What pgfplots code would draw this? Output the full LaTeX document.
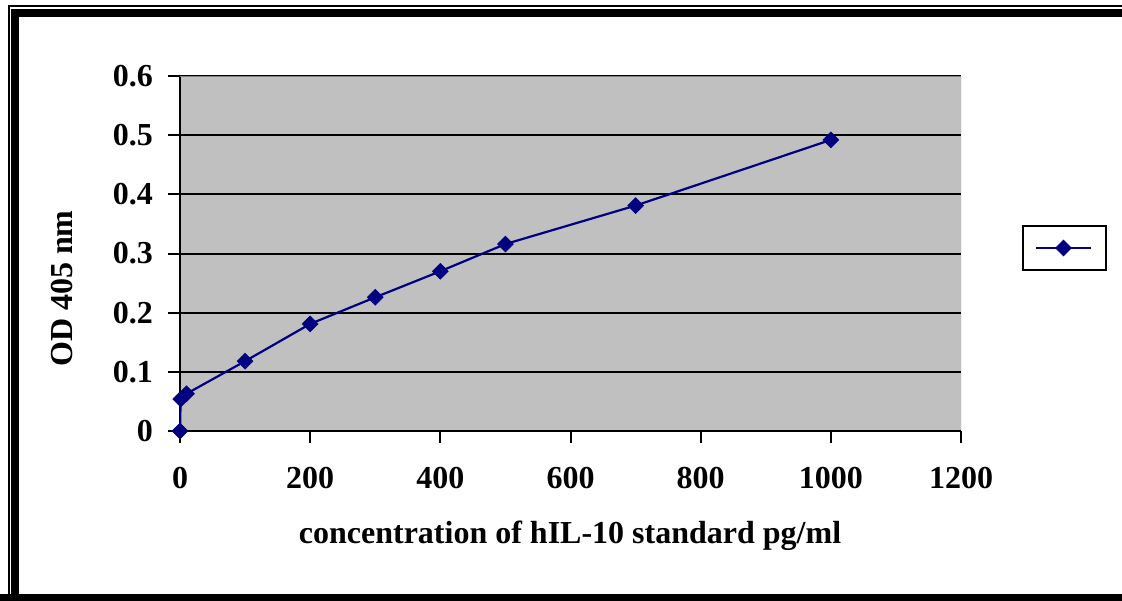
\documentclass[border=0pt]{standalone}
\usepackage{pgfplots}
\pgfplotsset{compat=1.18}
\usepackage{fontspec}
\setmainfont{Liberation Serif}
\definecolor{navy}{HTML}{000080}
\definecolor{plotgray}{HTML}{C0C0C0}
\definecolor{bordergray}{HTML}{808080}
\begin{document}
\begin{tikzpicture}[x=0.5pt,y=0.5pt]
\clip (0,0) rectangle (1122,600);
\fill[white] (0,0) rectangle (1122,600);
\draw[black, line width=1pt] (8.5,-20) rectangle (1140,593.5);
\draw[black, line width=4pt] (15,-20) rectangle (1140,587);
\draw[black, line width=4pt] (-20,2) -- (1140,2);
\begin{axis}[
  at={(90pt,84.5pt)}, anchor=south west,
  scale only axis, width=390.5pt, height=177.5pt,
  xmin=0, xmax=1200, ymin=0, ymax=0.6,
  xtick={0,200,...,1200}, ytick={0,0.1,...,0.6},
  axis lines*=left,
  axis line style={-, black, line width=1pt},
  axis background/.style={fill=plotgray},
  tick align=outside, major tick length=6pt,
  tick style={black, line width=1pt},
  ymajorgrids, grid style={black, line width=1pt},
  /pgf/number format/assume math mode=true,
  /pgf/number format/set thousands separator={},
  yticklabel style={/pgf/number format/fixed, /pgf/number format/precision=1, xshift=-4pt},
  xticklabel style={yshift=-8.5pt},
  scaled y ticks=false,
  ticklabel style={font=\fontsize{16}{19}\selectfont\bfseries},
  label style={font=\fontsize{16}{19}\selectfont\bfseries},
  xlabel={concentration of hIL-10 standard pg/ml},
  ylabel={OD 405 nm},
  xlabel style={at={(axis description cs:0.4994,-0.295)}, anchor=center},
  ylabel style={at={(axis description cs:-0.151,0.401)}, anchor=center},
  legend style={at={(axis description cs:1.1325,0.5155)}, anchor=center,
    draw=black, line width=1pt, fill=white, inner xsep=6pt, inner ysep=7pt,
    nodes={inner sep=0pt}},
  legend image code/.code={\draw[mark repeat=2,mark phase=2,#1] plot coordinates {(0pt,0pt)(13.75pt,0pt)(27.5pt,0pt)};},
]
\draw[bordergray, line width=0.5pt] (rel axis cs:0,1) -- (rel axis cs:1,1) -- (rel axis cs:1,0);
\addplot[navy, line width=1.1pt, mark=square*, mark size=2.8pt, mark options={fill=navy, draw=navy, line width=0.3pt, rotate=45}]
 coordinates {(0,0) (1,0.054) (10,0.063) (100,0.118) (200,0.181) (300,0.226) (400,0.270) (500,0.316) (700,0.381) (1000,0.492)};
\addlegendentry{}
\end{axis}
\end{tikzpicture}
\end{document}
